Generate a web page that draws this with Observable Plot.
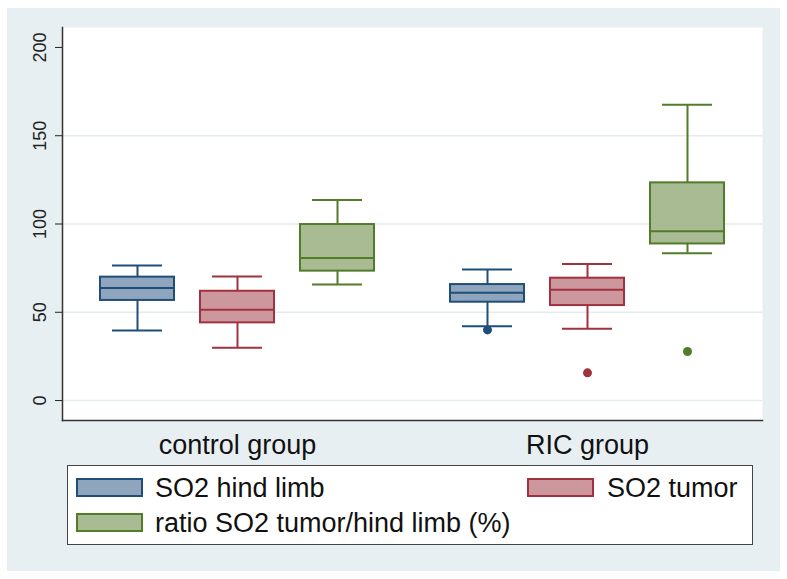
<!DOCTYPE html>
<html><head><meta charset="utf-8">
<script src="https://cdn.jsdelivr.net/npm/d3@7"></script>
<script src="https://cdn.jsdelivr.net/npm/@observablehq/plot@0.6"></script>
<style>
body{margin:0;background:#fff;font-family:"Liberation Sans",Arial,sans-serif;}
#panel{position:absolute;left:7px;top:8px;width:773px;height:563px;background:#e8eff2;}
#chart{position:absolute;left:0;top:0;}
#legend{position:absolute;left:67px;top:465px;width:686px;height:80px;box-sizing:border-box;border:1px solid #444;background:#fff;}
.sw{position:absolute;width:67px;height:19px;box-sizing:border-box;border:2px solid;}
.lt{position:absolute;font-size:27px;line-height:27px;color:#111;white-space:nowrap;}
</style></head><body>
<div id="panel"></div><div id="chart"></div><div id="legend"></div>
<script>
const groups = ["control group", "RIC group"];
const series = ["SO2 hind limb", "SO2 tumor", "ratio SO2 tumor/hind limb (%)"];
const strokeColors = ["#1f4e79", "#a2313f", "#527b2a"];
const fillColors = ["#8fa5bd", "#cc979d", "#a8bb93"];

// box statistics, order: control (hind, tumor, ratio), RIC (hind, tumor, ratio)
const boxGroup = ["control group", "control group", "control group", "RIC group", "RIC group", "RIC group"];
const boxSeries = ["SO2 hind limb", "SO2 tumor", "ratio SO2 tumor/hind limb (%)", "SO2 hind limb", "SO2 tumor", "ratio SO2 tumor/hind limb (%)"];
const whiskerLow = [39.7, 29.9, 65.7, 42.1, 40.6, 83.5];
const q1 = [56.7, 44.0, 73.3, 55.7, 53.8, 88.7];
const median = [63.8, 51.4, 80.8, 61.0, 62.7, 95.9];
const q3 = [69.9, 61.9, 99.7, 65.7, 69.3, 123.3];
const whiskerHigh = [76.5, 70.3, 113.6, 74.2, 77.4, 167.5];

// outliers
const outGroup = ["RIC group", "RIC group", "RIC group"];
const outSeries = ["SO2 hind limb", "SO2 tumor", "ratio SO2 tumor/hind limb (%)"];
const outValue = [40.0, 15.7, 27.8];

const yTicks = [0, 50, 100, 150, 200];
const gridTicks = [0, 50, 100, 150];

const rows = boxGroup.map((g, i) => ({group: g, series: boxSeries[i], lo: whiskerLow[i], q1: q1[i], med: median[i], q3: q3[i], hi: whiskerHigh[i]}));
const outRows = outGroup.map((g, i) => ({group: g, series: outSeries[i], value: outValue[i]}));

const font = '"Liberation Sans", Arial, sans-serif';
const chart = Plot.plot({
  width: 787, height: 460,
  marginLeft: 61, marginRight: 25, marginTop: 27, marginBottom: 40,
  style: {background: "transparent", fontFamily: font, overflow: "visible", color: "#111"},
  fx: {domain: groups, paddingInner: 0, paddingOuter: 0},
  x: {domain: series, paddingInner: 0.257, paddingOuter: 0.3637, axis: null},
  y: {domain: [-11.3, 211.3], axis: null},
  color: {domain: series, range: strokeColors},
  marks: [
    Plot.frame({fill: "white", stroke: null, facet: "super"}),
    Plot.ruleY(gridTicks, {stroke: "#e3ebee", strokeWidth: 1.5}),
    Plot.frame({anchor: "left", stroke: "#333", strokeWidth: 1.5, facet: "super"}),
    Plot.frame({anchor: "bottom", stroke: "#333", strokeWidth: 1.5, facet: "super"}),
    Plot.axisY({ticks: yTicks, tickSize: 7, tickRotate: -90, tickPadding: 10, fontSize: 18, label: null, color: "#222"}),
    Plot.axisFx({anchor: "bottom", tickSize: 0, tickPadding: 14, fontSize: 27, label: null, color: "#111"}),
    Plot.ruleX(rows, {fx: "group", x: "series", y1: "lo", y2: "q1", stroke: "series", strokeWidth: 2}),
    Plot.ruleX(rows, {fx: "group", x: "series", y1: "q3", y2: "hi", stroke: "series", strokeWidth: 2}),
    Plot.tickY(rows, {fx: "group", x: "series", y: "lo", stroke: "series", strokeWidth: 2, insetLeft: 12, insetRight: 12}),
    Plot.tickY(rows, {fx: "group", x: "series", y: "hi", stroke: "series", strokeWidth: 2, insetLeft: 12, insetRight: 12}),
    Plot.barY(rows, {fx: "group", x: "series", y1: "q1", y2: "q3", stroke: "series", strokeWidth: 2,
      fill: d => fillColors[series.indexOf(d.series)]}),
    Plot.tickY(rows, {fx: "group", x: "series", y: "med", stroke: "series", strokeWidth: 2}),
    Plot.dot(outRows, {fx: "group", x: "series", y: "value", r: 4.5, fill: "series", stroke: null})
  ]
});
document.getElementById("chart").appendChild(chart);

// legend
const items = [
  {s: 0, sx: 76, sy: 478, tx: 155, ty: 475},
  {s: 1, sx: 527, sy: 478, tx: 607, ty: 475},
  {s: 2, sx: 76, sy: 513, tx: 155, ty: 510}
];
for (const it of items) {
  const sw = document.createElement("div");
  sw.className = "sw";
  sw.style.left = it.sx + "px"; sw.style.top = it.sy + "px";
  sw.style.background = fillColors[it.s]; sw.style.borderColor = strokeColors[it.s];
  document.body.appendChild(sw);
  const t = document.createElement("div");
  t.className = "lt";
  t.style.left = it.tx + "px"; t.style.top = it.ty + "px";
  t.textContent = series[it.s];
  document.body.appendChild(t);
}
</script>
</body></html>
